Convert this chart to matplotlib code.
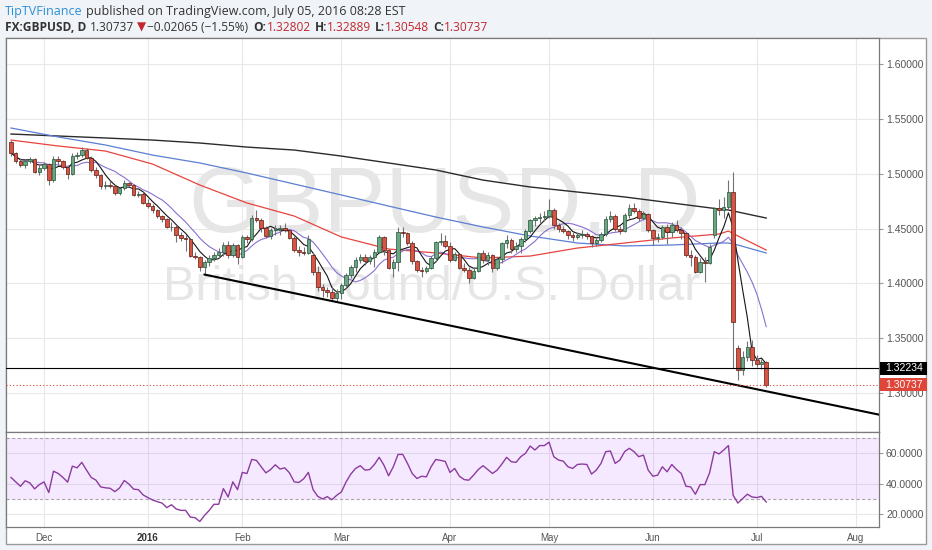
"""GBPUSD daily candles with moving averages, trendline and RSI pane,
laid out like a TradingView snapshot."""

import matplotlib
matplotlib.use("Agg")
import matplotlib.pyplot as plt
import matplotlib.transforms as mtransforms
import numpy as np
import pandas as pd
from matplotlib.patches import Rectangle

# trading days on the chart (no bars on Dec 25 and Jan 1)
dates = pd.bdate_range("2015-11-20", "2016-07-05")
dates = dates[~dates.isin(pd.to_datetime(["2015-12-25", "2016-01-01"]))]

opens = [1.5285, 1.5190, 1.5120, 1.5075, 1.5115, 1.5135, 1.5020, 1.5050, 1.5085, 1.4940,
         1.5134, 1.5118, 1.5065, 1.5000, 1.5165, 1.5175, 1.5220, 1.5145, 1.5030, 1.4990,
         1.4885, 1.4900, 1.4885, 1.4822, 1.4867, 1.4918, 1.4895, 1.4808, 1.4818, 1.4732,
         1.4705, 1.4665, 1.4615, 1.4590, 1.4512, 1.4518, 1.4441, 1.4411, 1.4400, 1.4250,
         1.4240, 1.4152, 1.4198, 1.4228, 1.4259, 1.4290, 1.4350, 1.4260, 1.4350, 1.4240,
         1.4420, 1.4405, 1.4600, 1.4580, 1.4502, 1.4430, 1.4490, 1.4495, 1.4505, 1.4490,
         1.4411, 1.4300, 1.4290, 1.4280, 1.4260, 1.4107, 1.3970, 1.3935, 1.3920, 1.3868,
         1.3910, 1.3985, 1.4076, 1.4150, 1.4213, 1.4240, 1.4200, 1.4240, 1.4290, 1.4420,
         1.4300, 1.4140, 1.4195, 1.4465, 1.4460, 1.4370, 1.4200, 1.4122, 1.4110, 1.4140,
         1.4230, 1.4375, 1.4385, 1.4340, 1.4215, 1.4270, 1.4140, 1.4120, 1.4050, 1.4110,
         1.4275, 1.4215, 1.4255, 1.4140, 1.4225, 1.4370, 1.4395, 1.4310, 1.4345, 1.4400,
         1.4480, 1.4578, 1.4592, 1.4605, 1.4612, 1.4665, 1.4530, 1.4495, 1.4480, 1.4440,
         1.4420, 1.4440, 1.4450, 1.4430, 1.4365, 1.4395, 1.4450, 1.4590, 1.4610, 1.4500,
         1.4480, 1.4625, 1.4685, 1.4660, 1.4600, 1.4635, 1.4490, 1.4415, 1.4420, 1.4515,
         1.4470, 1.4530, 1.4490, 1.4460, 1.4255, 1.4243, 1.4107, 1.4198, 1.4190, 1.4440,
         1.4684, 1.4665, 1.4700, 1.4830, 1.3410, 1.3210, 1.3330, 1.3422, 1.3300, 1.3260,
         1.32802]
highs = [1.5310, 1.5200, 1.5140, 1.5130, 1.5150, 1.5140, 1.5075, 1.5110, 1.5100, 1.5160,
         1.5160, 1.5125, 1.5075, 1.5185, 1.5200, 1.5240, 1.5235, 1.5160, 1.5060, 1.5000,
         1.4930, 1.4935, 1.4895, 1.4880, 1.4940, 1.4925, 1.4905, 1.4845, 1.4830, 1.4765,
         1.4720, 1.4680, 1.4625, 1.4600, 1.4560, 1.4530, 1.4470, 1.4440, 1.4415, 1.4290,
         1.4250, 1.4215, 1.4260, 1.4290, 1.4320, 1.4380, 1.4390, 1.4370, 1.4360, 1.4440,
         1.4440, 1.4620, 1.4668, 1.4600, 1.4520, 1.4505, 1.4530, 1.4530, 1.4550, 1.4500,
         1.4430, 1.4340, 1.4330, 1.4440, 1.4290, 1.4160, 1.3990, 1.3970, 1.3980, 1.3945,
         1.4000, 1.4090, 1.4170, 1.4240, 1.4270, 1.4265, 1.4260, 1.4310, 1.4440, 1.4430,
         1.4310, 1.4220, 1.4515, 1.4515, 1.4470, 1.4385, 1.4215, 1.4150, 1.4160, 1.4250,
         1.4390, 1.4460, 1.4440, 1.4380, 1.4290, 1.4280, 1.4190, 1.4150, 1.4150, 1.4290,
         1.4300, 1.4290, 1.4265, 1.4240, 1.4380, 1.4440, 1.4410, 1.4380, 1.4420, 1.4500,
         1.4590, 1.4610, 1.4640, 1.4660, 1.4770, 1.4690, 1.4550, 1.4520, 1.4490, 1.4470,
         1.4470, 1.4490, 1.4470, 1.4440, 1.4420, 1.4470, 1.4615, 1.4660, 1.4630, 1.4520,
         1.4640, 1.4720, 1.4730, 1.4680, 1.4660, 1.4645, 1.4500, 1.4460, 1.4535, 1.4540,
         1.4560, 1.4575, 1.4510, 1.4470, 1.4300, 1.4260, 1.4230, 1.4240, 1.4360, 1.4700,
         1.4770, 1.4790, 1.4945, 1.5012, 1.3440, 1.3380, 1.3470, 1.3480, 1.3345, 1.3310,
         1.32889]
lows = [1.5165, 1.5100, 1.5060, 1.5055, 1.5100, 1.5005, 1.4990, 1.5030, 1.4895, 1.4925,
        1.5080, 1.5040, 1.4955, 1.4985, 1.5130, 1.5150, 1.5130, 1.5015, 1.4960, 1.4865,
        1.4860, 1.4870, 1.4805, 1.4805, 1.4855, 1.4880, 1.4795, 1.4790, 1.4725, 1.4690,
        1.4640, 1.4600, 1.4560, 1.4505, 1.4475, 1.4380, 1.4390, 1.4295, 1.4240, 1.4225,
        1.4115, 1.4080, 1.4160, 1.4200, 1.4230, 1.4250, 1.4230, 1.4240, 1.4180, 1.4230,
        1.4370, 1.4390, 1.4560, 1.4465, 1.4415, 1.4405, 1.4445, 1.4440, 1.4470, 1.4400,
        1.4285, 1.4245, 1.4260, 1.4270, 1.4080, 1.3930, 1.3878, 1.3880, 1.3836, 1.3836,
        1.3860, 1.3960, 1.4050, 1.4100, 1.4190, 1.4170, 1.4180, 1.4150, 1.4280, 1.4260,
        1.4130, 1.4055, 1.4110, 1.4420, 1.4350, 1.4180, 1.4100, 1.4060, 1.4090, 1.4130,
        1.4200, 1.4350, 1.4320, 1.4195, 1.4200, 1.4130, 1.4100, 1.4005, 1.4040, 1.4100,
        1.4190, 1.4170, 1.4100, 1.4120, 1.4190, 1.4320, 1.4280, 1.4290, 1.4280, 1.4380,
        1.4460, 1.4520, 1.4550, 1.4570, 1.4600, 1.4500, 1.4470, 1.4455, 1.4400, 1.4390,
        1.4400, 1.4410, 1.4400, 1.4330, 1.4340, 1.4380, 1.4430, 1.4560, 1.4480, 1.4450,
        1.4470, 1.4600, 1.4640, 1.4570, 1.4580, 1.4470, 1.4350, 1.4380, 1.4400, 1.4355,
        1.4420, 1.4470, 1.4400, 1.4240, 1.4160, 1.4090, 1.4095, 1.4013, 1.4180, 1.4410,
        1.4620, 1.4600, 1.4680, 1.3229, 1.3120, 1.3160, 1.3290, 1.3250, 1.3240, 1.3220,
        1.30548]
closes = [1.5190, 1.5120, 1.5075, 1.5115, 1.5135, 1.5020, 1.5050, 1.5085, 1.4940, 1.5134,
          1.5118, 1.5065, 1.5000, 1.5165, 1.5175, 1.5220, 1.5145, 1.5030, 1.4990, 1.4885,
          1.4900, 1.4885, 1.4822, 1.4867, 1.4918, 1.4895, 1.4808, 1.4818, 1.4732, 1.4705,
          1.4665, 1.4615, 1.4590, 1.4512, 1.4518, 1.4441, 1.4411, 1.4400, 1.4250, 1.4240,
          1.4152, 1.4198, 1.4228, 1.4259, 1.4290, 1.4350, 1.4260, 1.4350, 1.4240, 1.4420,
          1.4405, 1.4600, 1.4580, 1.4502, 1.4430, 1.4490, 1.4495, 1.4505, 1.4490, 1.4411,
          1.4300, 1.4290, 1.4280, 1.4400, 1.4107, 1.3970, 1.3935, 1.3920, 1.3868, 1.3910,
          1.3985, 1.4076, 1.4150, 1.4213, 1.4240, 1.4200, 1.4240, 1.4290, 1.4420, 1.4300,
          1.4140, 1.4195, 1.4465, 1.4460, 1.4370, 1.4200, 1.4122, 1.4110, 1.4140, 1.4230,
          1.4375, 1.4385, 1.4340, 1.4215, 1.4270, 1.4140, 1.4120, 1.4050, 1.4110, 1.4275,
          1.4215, 1.4255, 1.4140, 1.4225, 1.4370, 1.4395, 1.4310, 1.4345, 1.4400, 1.4480,
          1.4578, 1.4592, 1.4605, 1.4612, 1.4665, 1.4530, 1.4495, 1.4480, 1.4440, 1.4420,
          1.4440, 1.4450, 1.4430, 1.4365, 1.4395, 1.4450, 1.4590, 1.4610, 1.4500, 1.4480,
          1.4625, 1.4685, 1.4660, 1.4600, 1.4635, 1.4490, 1.4415, 1.4420, 1.4515, 1.4470,
          1.4530, 1.4490, 1.4460, 1.4255, 1.4243, 1.4107, 1.4198, 1.4190, 1.4335, 1.4684,
          1.4665, 1.4700, 1.4830, 1.3650, 1.3210, 1.3330, 1.3422, 1.3300, 1.3260, 1.3280,
          1.30737]

# long moving averages at a few bars
ma_idx = [0, 10, 20, 30, 40, 50, 60, 70, 80, 90, 100, 110, 120, 130, 140, 150, 152, 154, 157, 160]
sma200 = [1.5362, 1.5344, 1.5326, 1.5307, 1.5280, 1.5243, 1.5216, 1.5161, 1.5098, 1.5034,
          1.4942, 1.4879, 1.4833, 1.4788, 1.4733, 1.4678, 1.4669, 1.4651, 1.4623, 1.4596]
sma100 = [1.5417, 1.5335, 1.5262, 1.5170, 1.5098, 1.5006, 1.4906, 1.4806, 1.4705, 1.4605,
          1.4514, 1.4432, 1.4368, 1.4341, 1.4350, 1.4368, 1.4368, 1.4350, 1.4313, 1.4277]
sma50 = [1.5307, 1.5253, 1.5207, 1.5088, 1.4897, 1.4733, 1.4614, 1.4423, 1.4313, 1.4277,
         1.4231, 1.4249, 1.4322, 1.4368, 1.4414, 1.4450, 1.4477, 1.4432, 1.4368, 1.4304]

rsi_values = [44.0, 41.1, 38.2, 41.8, 40.4, 36.5, 39.3, 41.1, 34.1, 48.1,
              46.6, 44.0, 40.9, 51.4, 50.3, 53.9, 48.8, 44.0, 42.2, 37.8,
              37.2, 36.9, 34.7, 37.1, 42.0, 39.6, 36.3, 36.0, 32.5, 30.8,
              29.2, 28.1, 27.2, 24.2, 26.1, 23.3, 22.4, 22.4, 18.0, 17.6,
              15.1, 19.1, 22.4, 26.4, 26.4, 36.7, 31.2, 41.1, 36.0, 47.3,
              46.6, 55.8, 55.2, 51.0, 47.0, 49.2, 52.3, 49.5, 50.3, 47.0,
              41.1, 40.7, 43.1, 47.3, 36.0, 31.6, 29.9, 31.4, 29.4, 32.3,
              34.5, 41.1, 46.2, 49.9, 51.7, 48.8, 49.2, 52.5, 57.2, 52.1,
              45.1, 51.0, 59.1, 59.1, 53.2, 46.6, 43.3, 44.8, 44.4, 51.0,
              55.8, 55.2, 54.5, 47.3, 49.9, 44.8, 42.6, 42.2, 45.5, 49.2,
              51.7, 49.2, 46.6, 48.8, 52.8, 57.2, 54.3, 53.9, 57.6, 59.8,
              64.6, 62.0, 64.9, 64.9, 67.1, 57.6, 55.4, 54.7, 51.0, 49.9,
              52.5, 52.8, 52.5, 46.2, 48.8, 53.2, 60.9, 61.3, 53.2, 55.4,
              60.9, 63.1, 60.9, 57.6, 58.7, 48.8, 44.8, 45.5, 51.0, 47.7,
              52.5, 49.2, 46.6, 38.2, 37.8, 33.0, 39.3, 39.3, 47.0, 60.9,
              59.4, 62.0, 64.9, 32.3, 27.2, 30.1, 33.0, 31.2, 30.8, 31.6,
              27.9]

# support trendline anchors
trend_dates = ["2016-01-20", "2016-07-05"]
trend_prices = [1.4080, 1.3016]

resistance = 1.32234
last_price = 1.30737

month_labels = ["Dec", "2016", "Feb", "Mar", "Apr", "May", "Jun", "Jul", "Aug"]
price_ticks = [1.30, 1.35, 1.40, 1.45, 1.50, 1.55, 1.60]
rsi_ticks = [20, 40, 60]

# colours
UP, DOWN = "#6ba583", "#d75442"
UP_EDGE, DOWN_EDGE = "#225437", "#5b1a13"
WICK = "#737375"
GRID = "#e8e8e8"
AXIS_TXT = "#555555"

assert len(dates) == len(opens) == len(highs) == len(lows) == len(closes) == len(rsi_values)

idx = np.arange(len(dates))
o = np.array(opens)
h = np.array(highs)
l = np.array(lows)
c = np.array(closes)
close_s = pd.Series(c)
sma5 = close_s.rolling(5, min_periods=1).mean()
sma10 = close_s.rolling(10, min_periods=1).mean()

# bar positions of the month starts, extended past the last bar for August
all_days = dates.append(pd.bdate_range("2016-07-06", "2016-08-31"))
month_pos = [i for i in range(1, len(all_days)) if all_days[i].month != all_days[i - 1].month]
month_pos = month_pos[:len(month_labels)]

W, H = 932, 550
fig = plt.figure(figsize=(W / 100, H / 100), dpi=100, facecolor="#f0f3f7")


def rect(x0, y0, x1, y1):
    return [x0 / W, 1 - y1 / H, (x1 - x0) / W, (y1 - y0) / H]


# white chart frame behind both panes
fig.patches.append(Rectangle((6 / W, 1 - 544 / H), 920 / W, 506 / H,
                             transform=fig.transFigure, facecolor="white",
                             edgecolor="#9a9a9a", lw=1, zorder=-5))

ax = fig.add_axes(rect(6, 38, 879, 432))
rsi = fig.add_axes(rect(6, 432, 879, 527), sharex=ax)

for a in (ax, rsi):
    a.set_facecolor("white")
    for sp in a.spines.values():
        sp.set_color("#7a7a7a")
        sp.set_linewidth(0.9)
    a.set_xticks(month_pos)
    a.grid(True, color=GRID, lw=0.8, zorder=0)
    a.set_axisbelow(True)
    a.yaxis.tick_right()
    a.tick_params(axis="y", length=3, color="#999999", labelcolor=AXIS_TXT,
                  labelsize=7.5, pad=2)

ax.set_xlim(-1.06, 183.9)
ax.set_ylim(1.2644, 1.6238)
ax.set_yticks(price_ticks)
ax.set_yticklabels([f"{v:.5f}" for v in price_ticks], family="Liberation Sans")
ax.tick_params(axis="x", length=0, labelbottom=False)

# watermark
ax.text(0.503, 0.508, "GBPUSD, D", transform=ax.transAxes, ha="center",
        va="baseline", fontsize=67, color="#e6e6e6", family="Liberation Sans", zorder=1)
ax.text(0.488, 0.335, "British Pound/U.S. Dollar", transform=ax.transAxes,
        ha="center", va="baseline", fontsize=35, color="#e6e6e6",
        family="Liberation Sans", zorder=1)

# moving averages
ax.plot(ma_idx, sma200, color="#2b2b2b", lw=1.0, zorder=2)
ax.plot(ma_idx, sma100, color="#5b7fd1", lw=0.9, zorder=2)
ax.plot(ma_idx, sma50, color="#e8433e", lw=0.9, zorder=2)
ax.plot(idx, sma10, color="#8a6fcf", lw=0.8, zorder=2)
ax.plot(idx, sma5, color="#151515", lw=0.8, zorder=2)

# candles
up = c >= o
ax.vlines(idx, l, h, color=WICK, lw=0.8, zorder=3)
body = np.maximum(np.abs(c - o), 0.0003)
ax.bar(idx, body, bottom=np.minimum(o, c), width=0.75,
       color=np.where(up, UP, DOWN), edgecolor=np.where(up, UP_EDGE, DOWN_EDGE),
       linewidth=0.5, zorder=4)

# support trendline, extended to the right edge
t_idx = [dates.get_loc(pd.Timestamp(d)) for d in trend_dates]
slope = (trend_prices[1] - trend_prices[0]) / (t_idx[1] - t_idx[0])
x_end = ax.get_xlim()[1]
ax.plot([t_idx[0], x_end], [trend_prices[0], trend_prices[0] + slope * (x_end - t_idx[0])],
        color="black", lw=1.5, zorder=5)

# horizontal levels
ax.axhline(resistance, color="black", lw=0.8, zorder=5)
ax.axhline(last_price, color="#e0453a", lw=0.8, ls=(0, (1, 2)), zorder=5)

# price labels on the axis
blend = mtransforms.blended_transform_factory(ax.transAxes, ax.transData)
for val, bg in ((resistance, "black"), (last_price, "#e0453a")):
    ax.add_patch(Rectangle((1.001, val - 0.0059), 47 / 873, 0.0118, transform=blend,
                           facecolor=bg, edgecolor="none", clip_on=False, zorder=10))
    ax.text(1.0 + 6 / 873, val, f"{val:.5f}", transform=blend, ha="left", va="center",
            color="white", fontsize=7.5, family="Liberation Sans", clip_on=False, zorder=11)

# RSI pane
rsi.set_ylim(11.5, 73.8)
rsi.set_yticks(rsi_ticks)
rsi.set_yticklabels([f"{v:.4f}" for v in rsi_ticks], family="Liberation Sans")
rsi.axhspan(30, 70, color="#9915ff", alpha=0.09, lw=0, zorder=1)
rsi.axhline(70, color="#a9a3b3", lw=0.8, ls=(0, (3, 2)), zorder=2)
rsi.axhline(30, color="#a9a3b3", lw=0.8, ls=(0, (3, 2)), zorder=2)
rsi.plot(idx, rsi_values, color="#8c3b9e", lw=1.0, zorder=3)
rsi.set_xticklabels(month_labels, family="Liberation Sans")
rsi.tick_params(axis="x", length=0, pad=4, labelsize=7, labelcolor=AXIS_TXT)
for lab in rsi.get_xticklabels():
    if lab.get_text() == "2016":
        lab.set_fontweight("bold")
        lab.set_color("#333333")

# header text
hdr = fig.add_axes([0, 0, 1, 1], facecolor="none")
hdr.axis("off")
HFONT = ["Open Sans", "DejaVu Sans"]
DARK, BLUE, RED = "#333333", "#2b8fd6", "#c1272d"


def write_line(pieces, x, y, size):
    prev = None
    for text, color, weight, gap in pieces:
        if prev is None:
            prev = hdr.text(x, y, text, transform=fig.transFigure, color=color,
                            fontweight=weight, fontsize=size, family=HFONT,
                            ha="left", va="bottom")
        else:
            prev = hdr.annotate(text, xy=(1, 0), xycoords=prev, xytext=(gap, 0),
                                textcoords="offset points", color=color,
                                fontweight=weight, fontsize=size, family=HFONT,
                                ha="left", va="bottom")


write_line([("TipTVFinance", BLUE, "normal", 0),
            ("published on TradingView.com, July 05, 2016 08:28 EST", DARK, "normal", 2.5)],
           5 / W, 1 - 18 / H, 9.0)
write_line([("FX:GBPUSD, D", DARK, "bold", 0),
            ("1.30737", DARK, "normal", 2.9),
            ("\u25bc", RED, "normal", 1.5),
            ("\u22120.02065 (\u22121.55%)", DARK, "normal", 1.0),
            ("O:", DARK, "bold", 3.9), ("1.32802", RED, "normal", 0),
            ("H:", DARK, "bold", 2.9), ("1.32889", RED, "normal", 0),
            ("L:", DARK, "bold", 2.9), ("1.30548", RED, "normal", 0),
            ("C:", DARK, "bold", 2.9), ("1.30737", RED, "normal", 0)],
           5 / W, 1 - 34 / H, 8.6)

fig.savefig("out.png", dpi=100, facecolor=fig.get_facecolor())
